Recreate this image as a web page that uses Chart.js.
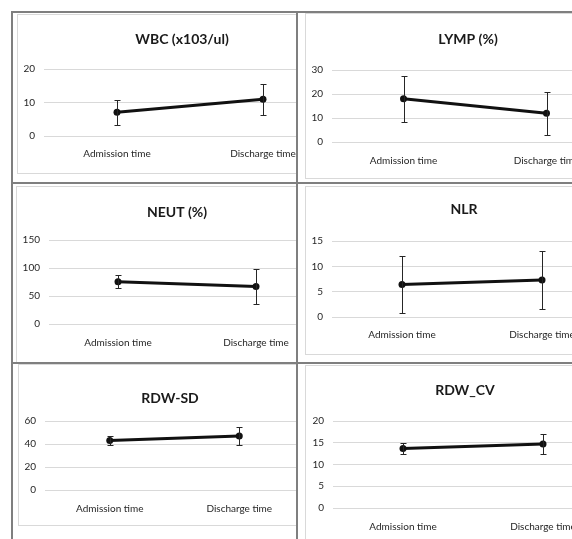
<!DOCTYPE html>
<html>
<head>
<meta charset="utf-8">
<script src="https://cdn.jsdelivr.net/npm/chart.js@4.4.1/dist/chart.umd.min.js"></script>
<style>
  html, body { margin: 0; padding: 0; background: #fff; }
  body { width: 572px; height: 539px; position: relative; overflow: hidden; }
  .cell { position: absolute; overflow: hidden; }
  .wrap { position: absolute; border: 1px solid #d9d9d9; background: #fff; }
  .wrap canvas { display: block; }
  .rule { position: absolute; background: #7f7f7f; }
</style>
</head>
<body>
<script>
// categories shared by all six small charts
const categories = ['Admission time', 'Discharge time'];

// mean and standard deviation
const wbcMean = [7.1, 11.0];
const wbcSd = [3.7, 4.6];
const lympMean = [18.0, 12.0];
const lympSd = [9.5, 9.0];
const neutMean = [75.5, 67.0];
const neutSd = [12.0, 31.0];
const nlrMean = [6.4, 7.3];
const nlrSd = [5.6, 5.8];
const rdwSdMean = [43.0, 47.0];
const rdwSdSd = [4.3, 8.0];
const rdwCvMean = [13.7, 14.7];
const rdwCvSd = [1.2, 2.3];

// y axis tick ranges
const wbcTicks = [0, 10, 20];
const lympTicks = [0, 10, 20, 30];
const neutTicks = [0, 50, 100, 150];
const nlrTicks = [0, 5, 10, 15];
const rdwSdTicks = [0, 20, 40, 60];
const rdwCvTicks = [0, 5, 10, 15, 20];

// table rules
[[11, 11, 600, 2], [11, 11, 2, 540], [296, 11, 2, 540], [11, 182, 600, 2], [11, 362, 600, 2]]
  .forEach(r => {
    const d = document.createElement('div');
    d.className = 'rule';
    d.style.left = r[0] + 'px'; d.style.top = r[1] + 'px';
    d.style.width = r[2] + 'px'; d.style.height = r[3] + 'px';
    document.body.appendChild(d);
  });

// draws the +/- sd whiskers using the chart's own y scale
const errorBars = {
  id: 'errorBars',
  afterLayout(chart, args, opts) {
    // centre the title on the whole (uncropped) chart like Excel does
    const t = chart.titleBlock;
    t.left = opts.titleX - 150;
    t.right = opts.titleX + 150;
    t.width = 300;
  },
  afterDatasetsDraw(chart, args, opts) {
    const ctx = chart.ctx;
    const y = chart.scales.y;
    const ds = chart.data.datasets[0];
    ctx.save();
    ctx.strokeStyle = '#262626';
    ctx.lineWidth = 1;
    chart.getDatasetMeta(0).data.forEach((pt, i) => {
      const x = Math.round(pt.x) + 0.5;
      const top = Math.round(y.getPixelForValue(ds.data[i] + opts.sd[i])) + 0.5;
      const bot = Math.round(y.getPixelForValue(ds.data[i] - opts.sd[i])) + 0.5;
      ctx.beginPath();
      ctx.moveTo(x, top); ctx.lineTo(x, bot);
      ctx.moveTo(x - 3, top); ctx.lineTo(x + 3, top);
      ctx.moveTo(x - 3, bot); ctx.lineTo(x + 3, bot);
      ctx.stroke();
    });
    ctx.restore();
  }
};

function makePanel(title, means, sds, ticks, geo) {
  const cell = document.createElement('div');
  cell.className = 'cell';
  cell.style.left = geo.cell[0] + 'px';
  cell.style.top = geo.cell[1] + 'px';
  cell.style.width = geo.cell[2] + 'px';
  cell.style.height = geo.cell[3] + 'px';
  const wrap = document.createElement('div');
  wrap.className = 'wrap';
  wrap.style.left = (geo.wrap[0] - geo.cell[0]) + 'px';
  wrap.style.top = (geo.wrap[1] - geo.cell[1]) + 'px';
  const W = geo.wrap[2] - 2, H = geo.wrap[3] - 2;
  wrap.style.width = W + 'px';
  wrap.style.height = H + 'px';
  const canvas = document.createElement('canvas');
  canvas.width = W; canvas.height = H;
  canvas.style.width = W + 'px'; canvas.style.height = H + 'px';
  wrap.appendChild(canvas);
  cell.appendChild(wrap);
  document.body.appendChild(cell);

  // canvas-relative layout
  const ox = geo.wrap[0] + 1, oy = geo.wrap[1] + 1;
  const pt = geo.plotTop - oy, pb = geo.plotBottom - oy;
  const pl = geo.plotLeft - ox, pr = geo.plotRight - ox;
  const ly = geo.labelY - oy;
  const titleSize = 14, lh = titleSize * 1.2;
  const tPadTop = geo.titleY - oy - lh / 2;
  const tPadBottom = pt - tPadTop - lh;

  new Chart(canvas, {
    type: 'line',
    data: {
      labels: categories,
      datasets: [{
        data: means,
        borderColor: '#111',
        backgroundColor: '#111',
        borderWidth: 3,
        pointRadius: 3.5,
        pointBorderWidth: 0,
        tension: 0
      }]
    },
    options: {
      responsive: false,
      animation: false,
      layout: { padding: { left: 0, right: W - pr, top: 0, bottom: 0 } },
      plugins: {
        legend: { display: false },
        tooltip: { enabled: false },
        title: {
          display: true,
          text: title,
          color: '#1a1a1a',
          font: { family: 'Lato', size: titleSize, weight: 'bold' },
          padding: { top: tPadTop, bottom: tPadBottom }
        },
        errorBars: { sd: sds, titleX: geo.titleX - ox }
      },
      scales: {
        x: {
          offset: true,
          grid: { display: false, drawTicks: false },
          border: { display: true, color: '#d9d9d9', width: 1 },
          ticks: {
            color: '#262626',
            font: { family: 'Lato', size: 10 },
            padding: ly - pb - 6,
            maxRotation: 0,
            autoSkip: false
          },
          afterFit: s => { s.height = H - pb; }
        },
        y: {
          min: ticks[0],
          max: ticks[ticks.length - 1],
          grid: { color: '#d9d9d9', lineWidth: 1, drawTicks: false },
          border: { display: false },
          ticks: {
            stepSize: ticks[1] - ticks[0],
            color: '#262626',
            font: { family: 'Lato', size: 10 },
            padding: 9
          },
          afterFit: s => { s.width = pl; }
        }
      }
    },
    plugins: [errorBars]
  });
}

makePanel('WBC (x103/ul)', wbcMean, wbcSd, wbcTicks, {
  cell: [13, 13, 283, 169], wrap: [17, 14, 330, 160],
  plotTop: 69, plotBottom: 136, plotLeft: 44, plotRight: 336,
  titleX: 182, titleY: 39, labelY: 154
});
makePanel('LYMP (%)', lympMean, lympSd, lympTicks, {
  cell: [298, 13, 274, 169], wrap: [305, 13, 326, 166],
  plotTop: 70, plotBottom: 142, plotLeft: 332, plotRight: 618,
  titleX: 468, titleY: 39, labelY: 161
});
makePanel('NEUT (%)', neutMean, neutSd, neutTicks, {
  cell: [13, 184, 283, 178], wrap: [16, 186, 322, 200],
  plotTop: 240, plotBottom: 324, plotLeft: 49, plotRight: 325,
  titleX: 177, titleY: 212, labelY: 343
});
makePanel('NLR', nlrMean, nlrSd, nlrTicks, {
  cell: [298, 184, 274, 178], wrap: [305, 186, 318, 169],
  plotTop: 241, plotBottom: 317, plotLeft: 332, plotRight: 612,
  titleX: 464, titleY: 209, labelY: 335
});
makePanel('RDW-SD', rdwSdMean, rdwSdSd, rdwSdTicks, {
  cell: [13, 364, 283, 175], wrap: [18, 364, 304, 162],
  plotTop: 421, plotBottom: 490, plotLeft: 45, plotRight: 304,
  titleX: 170, titleY: 398, labelY: 509
});
makePanel('RDW_CV', rdwCvMean, rdwCvSd, rdwCvTicks, {
  cell: [298, 364, 274, 175], wrap: [305, 365, 320, 190],
  plotTop: 421, plotBottom: 508, plotLeft: 333, plotRight: 613,
  titleX: 465, titleY: 390, labelY: 527
});
</script>
</body>
</html>
